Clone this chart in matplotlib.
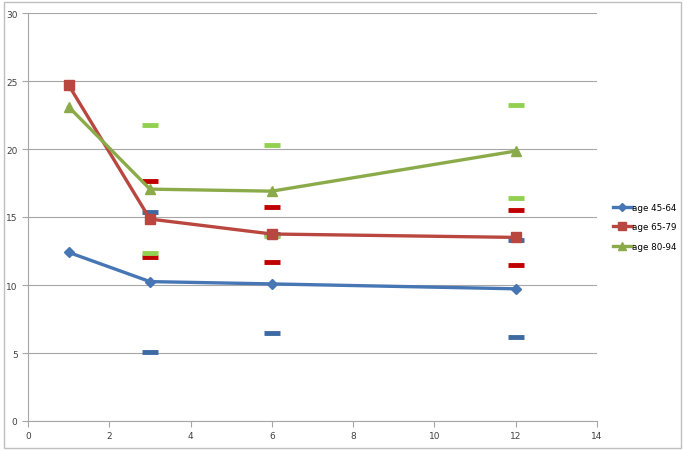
import matplotlib
matplotlib.use("Agg")
from matplotlib import pyplot as plt
from matplotlib.patches import Rectangle

# months of follow-up
months = [1, 3, 6, 12]

# mean values per age group
age_45_64 = [12.4, 10.25, 10.08, 9.72]
age_65_79 = [24.7, 14.85, 13.75, 13.5]
age_80_94 = [23.1, 17.05, 16.9, 19.85]

# upper / lower bounds (no bound at month 1)
bound_months = [3, 6, 12]
upper_45_64 = [15.35, 13.75, 13.3]
lower_45_64 = [5.1, 6.48, 6.18]
upper_65_79 = [17.65, 15.7, 15.5]
lower_65_79 = [12.05, 11.72, 11.5]
upper_80_94 = [21.8, 20.28, 23.2]
lower_80_94 = [12.35, 13.62, 16.42]

labels = ["age 45-64", "age 65-79", "age 80-94"]


def main():
    fig = plt.figure(figsize=(6.85, 4.52), dpi=100)
    ax = fig.add_axes([28 / 685, 1 - 422 / 452, (597 - 28) / 685, (422 - 14) / 452])

    # frame round the whole chart
    fig.patches.append(Rectangle((0.006, 0.006), 0.988, 0.988, transform=fig.transFigure,
                                 fill=False, edgecolor="#bfbfbf", linewidth=1))

    # bound dashes
    dash = dict(linestyle="none", marker="_", markersize=11, markeredgewidth=3.5, zorder=2)
    ax.plot(bound_months, upper_45_64, color="#3e6aa3", **dash)
    ax.plot(bound_months, lower_45_64, color="#3e6aa3", **dash)
    ax.plot(bound_months, upper_65_79, color="#c00000", **dash)
    ax.plot(bound_months, lower_65_79, color="#c00000", **dash)
    ax.plot(bound_months, upper_80_94, color="#92d050", **dash)
    ax.plot(bound_months, lower_80_94, color="#92d050", **dash)

    # main series
    ax.plot(months, age_45_64, color="#4677b4", linewidth=2.4, marker="D", markersize=5,
            label=labels[0], zorder=3)
    ax.plot(months, age_65_79, color="#b9473f", linewidth=2.4, marker="s", markersize=6.5,
            label=labels[1], zorder=3)
    ax.plot(months, age_80_94, color="#8bab4a", linewidth=2.4, marker="^", markersize=7,
            label=labels[2], zorder=3)

    ax.set_xlim(0, 14)
    ax.set_ylim(0, 30)
    ax.set_xticks(range(0, 15, 2))
    ax.set_yticks(range(0, 31, 5))
    ax.grid(axis="y", color="#a6a6a6", linewidth=0.8)
    ax.set_axisbelow(True)
    for side in ["top", "right"]:
        ax.spines[side].set_visible(False)
    for side in ["left", "bottom"]:
        ax.spines[side].set_color("#a6a6a6")
    ax.tick_params(axis="both", labelsize=6.5, colors="#404040", length=4, width=0.8,
                   color="#a6a6a6")

    ax.legend(loc="center left", bbox_to_anchor=(607 / 685, 1 - 228 / 452),
              bbox_transform=fig.transFigure, frameon=False, fontsize=6.3,
              handlelength=2.1, handletextpad=0.1, labelspacing=1.15, markerscale=0.8,
              borderpad=0.2)

    fig.savefig("out.png", dpi=100)


if __name__ == "__main__":
    main()
